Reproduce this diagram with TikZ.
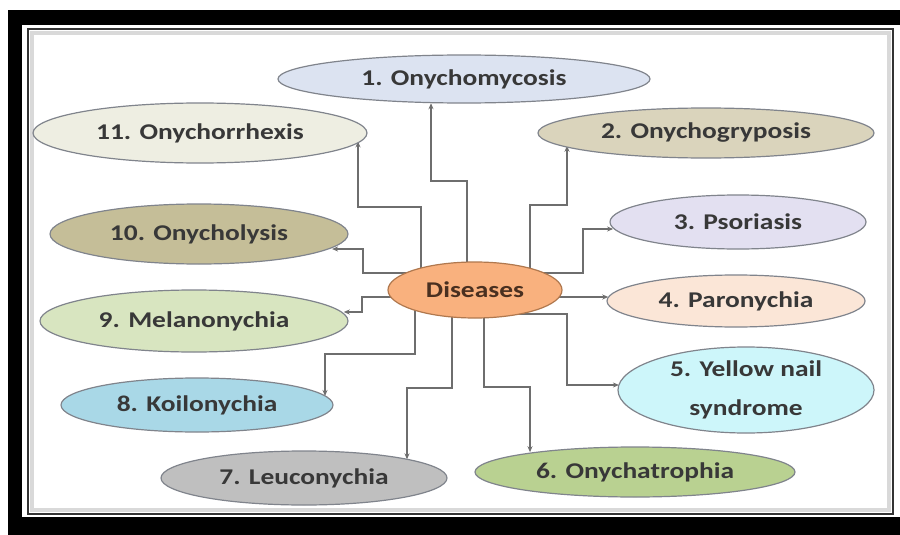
\documentclass[tikz,border=0pt]{standalone}
\usepackage{fontspec}
\setmainfont{Carlito}[FakeStretch=1.22]
\usetikzlibrary{shapes.geometric,arrows.meta}
\pgfdeclarelayer{frame}
\pgfdeclarelayer{lines}
\pgfsetlayers{frame,lines,main}
\definecolor{edgegray}{HTML}{80848C}
\definecolor{linegray}{HTML}{6E6E6E}
\definecolor{txt}{HTML}{383838}
\definecolor{c1}{HTML}{DCE3F1}
\definecolor{c2}{HTML}{DAD4BC}
\definecolor{c3}{HTML}{E3E0F1}
\definecolor{c4}{HTML}{FBE6D7}
\definecolor{c5}{HTML}{CDF6FA}
\definecolor{c6}{HTML}{B9D191}
\definecolor{c7}{HTML}{BFBFBF}
\definecolor{c8}{HTML}{A9D8E7}
\definecolor{c9}{HTML}{D8E5C0}
\definecolor{c10}{HTML}{C5BE98}
\definecolor{c11}{HTML}{EEEEE2}
\definecolor{cd}{HTML}{F9B17E}
\definecolor{cdedge}{HTML}{B0784E}
\definecolor{cdtxt}{HTML}{4A3020}
\tikzset{
  dz/.style={ellipse, draw=edgegray, line width=1.2pt, inner sep=0pt,
    font=\fontsize{22.5}{26}\selectfont\bfseries, text=txt, align=center},
  conn/.style={draw=linegray, line width=1.1pt, -{Stealth[length=6pt,width=5pt]}}
}
\begin{document}
\begin{tikzpicture}[x=1pt,y=-1pt]
\useasboundingbox (0,0) rectangle (900,535);
\begin{pgfonlayer}{frame}
\fill[white] (0,0) rectangle (900,535);
\fill[black] (8,10) rectangle (900,535);
\fill[white] (22,25) rectangle (900,517);
\draw[black!15, line width=4pt] (32,33) rectangle (889,510);
\draw[black!80, line width=2pt] (28,29) rectangle (893,514);
\end{pgfonlayer}

\node[dz, fill=c1, minimum width=372pt, minimum height=48pt] (n1) at (464,79) {1. Onychomycosis};
\node[dz, fill=c11, minimum width=334pt, minimum height=60pt] (n11) at (200,133) {11. Onychorrhexis};
\node[dz, fill=c2, minimum width=336pt, minimum height=50pt] (n2) at (706,133) {2. Onychogryposis};
\node[dz, fill=c10, minimum width=298pt, minimum height=60pt] (n10) at (199,234) {10. Onycholysis};
\node[dz, fill=c3, minimum width=256pt, minimum height=54pt] (n3) at (738,222) {3. Psoriasis};
\node[dz, fill=c4, minimum width=258pt, minimum height=52pt] (n4) at (736,301) {4. Paronychia};
\node[dz, fill=c9, minimum width=308pt, minimum height=62pt] (n9) at (194,321) {9. Melanonychia};
\node[dz, fill=c8, minimum width=272pt, minimum height=54pt] (n8) at (197,405) {8. Koilonychia};
\node[dz, fill=c7, minimum width=286pt, minimum height=54pt] (n7) at (304,478) {7. Leuconychia};
\node[dz, fill=c6, minimum width=320pt, minimum height=50pt] (n6) at (635,472) {6. Onychatrophia};
\node[dz, fill=c5, minimum width=256pt, minimum height=86pt,
  font=\fontsize{22.5}{39}\selectfont\bfseries] (n5) at (746,390) {5. Yellow nail\\syndrome};
\node[dz, fill=cd, draw=cdedge, text=cdtxt, minimum width=174pt, minimum height=56pt] (d) at (475,290) {Diseases};

\begin{pgfonlayer}{lines}
\draw[conn] (d.center -| 467,0) |- (431,181) -- (431,0 |- n1.216);
\draw[conn] (d.center -| 421,0) |- (358,207) -- (358,0 |- n11.-3.5);
\draw[conn] (d.center -| 530,0) |- (567,205) -- (567,0 |- n2.185.8);
\draw[conn] (d.center |- 0,273) -| (363,249) -- (n10.-6.6 |- 0,249);
\draw[conn] (d.center |- 0,297) -| (362,312) -- (n9.3.5 |- 0,312);
\draw[conn] (d.center -| 415,0) |- (325,354) -- (325,0 |- n8.4);
\draw[conn] (d.center -| 452,0) |- (407,388) -- (407,0 |- n7.10.4);
\draw[conn] (d.center -| 484,0) |- (530,387) -- (530,0 |- n6.169.7);
\draw[conn] (d.center -| 500,0) |- (567,314) |- (n5.177.7 |- 0,385);
\draw[conn] (d.center |- 0,297) -- (n4.178.2 |- 0,297);
\draw[conn] (d.center |- 0,273) -| (583,229) -- (n3.183.2 |- 0,229);
\end{pgfonlayer}
\end{tikzpicture}
\end{document}
